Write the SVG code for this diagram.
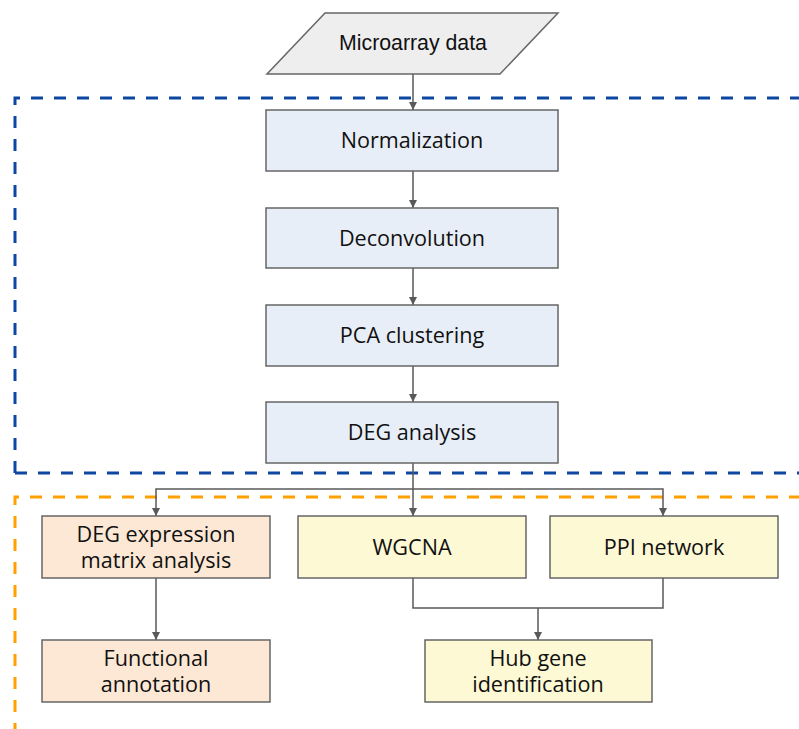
<svg xmlns="http://www.w3.org/2000/svg" width="799" height="729" viewBox="0 0 799 729">
<style>
.box{stroke:#666666;stroke-width:1.5}
.blue{fill:#e8eef7}
.peach{fill:#fce8d5}
.yel{fill:#fdf9d4}
.t{font-family:"Open Sans","Liberation Sans",sans-serif;font-size:21.6px;fill:#111;text-anchor:middle}
.ta{font-family:"Liberation Sans",Arial,sans-serif;font-size:21.3px;fill:#111;text-anchor:middle}
.c{fill:none;stroke:#595959;stroke-width:1.5}
</style>
<defs>
<marker id="ah" viewBox="0 0 10 10" refX="10" refY="5" markerWidth="8" markerHeight="8" markerUnits="userSpaceOnUse" orient="auto">
<path d="M0,0 L10,5 L0,10 z" fill="#595959"/>
</marker>
</defs>
<rect width="799" height="729" fill="#ffffff"/>
<g id="regions">
<path d="M15,473 V98 H805" fill="none" stroke="#0d47a1" stroke-width="3" stroke-dasharray="12,11"/>
<path d="M15,473 H805" fill="none" stroke="#0d47a1" stroke-width="3" stroke-dasharray="12,11"/>
<path d="M15,735 V497 H805" fill="none" stroke="#ffa000" stroke-width="3" stroke-dasharray="12,11"/>
</g>
<g id="connectors">
<path class="c" d="M413,74 V110" marker-end="url(#ah)"/>
<path class="c" d="M413,171 V208" marker-end="url(#ah)"/>
<path class="c" d="M413,268 V305" marker-end="url(#ah)"/>
<path class="c" d="M413,366 V402" marker-end="url(#ah)"/>
<path class="c" d="M413,463 V516" marker-end="url(#ah)"/>
<path class="c" d="M413,489 H156 V516" marker-end="url(#ah)"/>
<path class="c" d="M413,489 H663 V516" marker-end="url(#ah)"/>
<path class="c" d="M156,578 V640" marker-end="url(#ah)"/>
<path class="c" d="M413,578 V608 H663 V578"/>
<path class="c" d="M538,608 V640" marker-end="url(#ah)"/>
</g>
<g id="microarray">
<path d="M325,13 H558 L500,74 H267 Z" fill="#eeeeee" stroke="#666666" stroke-width="1.5"/>
<text class="ta" x="413" y="50">Microarray data</text>
</g>
<g id="normalization">
<rect class="box blue" x="266" y="110" width="292" height="61"/>
<text class="t" x="412" y="148">Normalization</text>
</g>
<g id="deconvolution">
<rect class="box blue" x="266" y="208" width="292" height="60"/>
<text class="t" x="412" y="246">Deconvolution</text>
</g>
<g id="pca">
<rect class="box blue" x="266" y="305" width="292" height="61"/>
<text class="t" x="412" y="343">PCA clustering</text>
</g>
<g id="deg">
<rect class="box blue" x="266" y="402" width="292" height="61"/>
<text class="t" x="412" y="440">DEG analysis</text>
</g>
<g id="degmatrix">
<rect class="box peach" x="42" y="516" width="228" height="62"/>
<text class="t" x="156" y="542">DEG expression</text>
<text class="t" x="156" y="568">matrix analysis</text>
</g>
<g id="wgcna">
<rect class="box yel" x="298" y="516" width="228" height="62"/>
<text class="t" x="412" y="555">WGCNA</text>
</g>
<g id="ppi">
<rect class="box yel" x="550" y="516" width="228" height="62"/>
<text class="t" x="664" y="555">PPI network</text>
</g>
<g id="functional">
<rect class="box peach" x="42" y="640" width="228" height="62"/>
<text class="t" x="156" y="666">Functional</text>
<text class="t" x="156" y="692">annotation</text>
</g>
<g id="hub">
<rect class="box yel" x="425" y="640" width="227" height="62"/>
<text class="t" x="538" y="666">Hub gene</text>
<text class="t" x="538" y="692">identification</text>
</g>
</svg>
